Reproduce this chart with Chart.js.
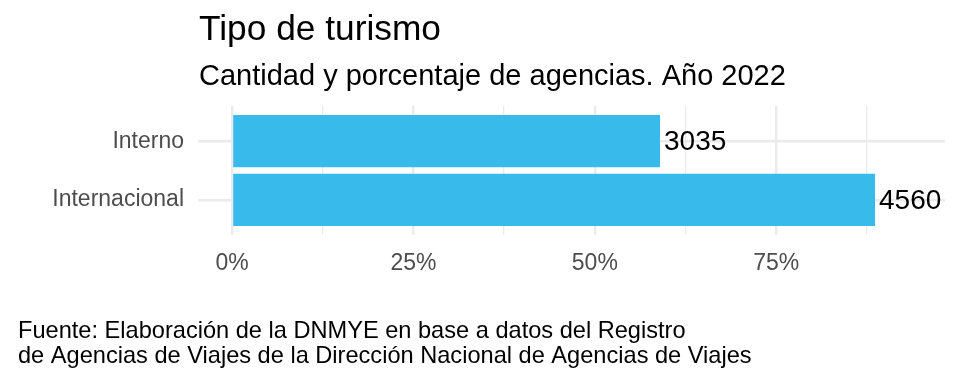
<!DOCTYPE html>
<html>
<head>
<meta charset="utf-8">
<script src="https://cdn.jsdelivr.net/npm/chart.js@4/dist/chart.umd.min.js"></script>
<style>
html,body{margin:0;padding:0;background:#fff;}
#wrap{position:relative;width:960px;height:384px;}
</style>
</head>
<body>
<div id="wrap"><canvas id="c" width="960" height="384"></canvas></div>
<script>
// ---- data ----
const categories = ["Interno", "Internacional"];
const agencyCounts = [3035, 4560];
const agencyPercent = [58.98, 88.61];
const xTickValues = [0, 12.5, 25, 37.5, 50, 62.5, 75, 87.5];
const titleText = "Tipo de turismo";
const subtitleText = "Cantidad y porcentaje de agencias. Año 2022";
const captionLines = [
  "Fuente: Elaboración de la DNMYE en base a datos del Registro",
  "de Agencias de Viajes de la Dirección Nacional de Agencias de Viajes"
];

const FONT = "'Liberation Sans', Arial, Helvetica, sans-serif";

const textPlugin = {
  id: 'texts',
  afterDraw(chart) {
    const ctx = chart.ctx;
    ctx.save();
    ctx.fillStyle = '#000';
    ctx.textAlign = 'left';
    ctx.textBaseline = 'alphabetic';
    ctx.font = "35.3px " + FONT;
    ctx.fillText(titleText, 199, 40);
    ctx.font = "29px " + FONT;
    ctx.fillText(subtitleText, 199, 85);
    ctx.font = "23.6px " + FONT;
    ctx.fillText(captionLines[0], 18, 338);
    ctx.fillText(captionLines[1], 18, 363);
    ctx.restore();
  }
};

const valueLabelPlugin = {
  id: 'valueLabels',
  afterDatasetsDraw(chart) {
    const ctx = chart.ctx;
    const meta = chart.getDatasetMeta(0);
    ctx.save();
    ctx.fillStyle = '#000';
    ctx.font = "28px " + FONT;
    ctx.textAlign = 'left';
    ctx.textBaseline = 'middle';
    meta.data.forEach((bar, i) => {
      ctx.fillText(String(agencyCounts[i]), bar.x + 4, bar.y + 1);
    });
    ctx.restore();
  }
};

new Chart(document.getElementById('c'), {
  type: 'bar',
  data: {
    datasets: [{
      data: categories.map((c, i) => ({ x: agencyPercent[i], y: i + 1 })),
      backgroundColor: '#38BBEB',
      borderWidth: 0,
      barPercentage: 0.89,
      categoryPercentage: 1
    }]
  },
  options: {
    indexAxis: 'y',
    responsive: false,
    animation: false,
    devicePixelRatio: 1,
    layout: { padding: { top: 106, right: 15, bottom: 0, left: 0 } },
    plugins: { legend: { display: false }, tooltip: { enabled: false }, title: { display: false } },
    scales: {
      x: {
        type: 'linear',
        min: -4.685,
        max: 98.25,
        offset: false,
        afterBuildTicks(scale) { scale.ticks = xTickValues.map(v => ({ value: v })); },
        afterFit(scale) { scale.height = 149; },
        border: { display: false },
        grid: {
          color: '#EBEBEB',
          offset: false,
          lineWidth: ctx => (ctx.tick && ctx.tick.value % 25 === 0) ? 2.4 : 1.3,
          drawTicks: false
        },
        ticks: {
          autoSkip: false,
          maxRotation: 0,
          padding: 15,
          color: '#4D4D4D',
          font: { family: FONT, size: 23 },
          callback: v => (v % 25 === 0) ? v + '%' : ''
        }
      },
      y: {
        type: 'linear',
        min: 0.4,
        max: 2.6,
        reverse: true,
        offset: false,
        afterBuildTicks(scale) { scale.ticks = categories.map((c, i) => ({ value: i + 1 })); },
        afterFit(scale) { scale.width = 198; },
        border: { display: false },
        grid: { color: '#EBEBEB', lineWidth: 2.4, drawTicks: false, offset: false },
        ticks: {
          autoSkip: false,
          padding: 14,
          color: '#4D4D4D',
          font: { family: FONT, size: 23 },
          callback: v => categories[Math.round(v) - 1] || ''
        }
      }
    }
  },
  plugins: [valueLabelPlugin, textPlugin]
});
</script>
</body>
</html>
